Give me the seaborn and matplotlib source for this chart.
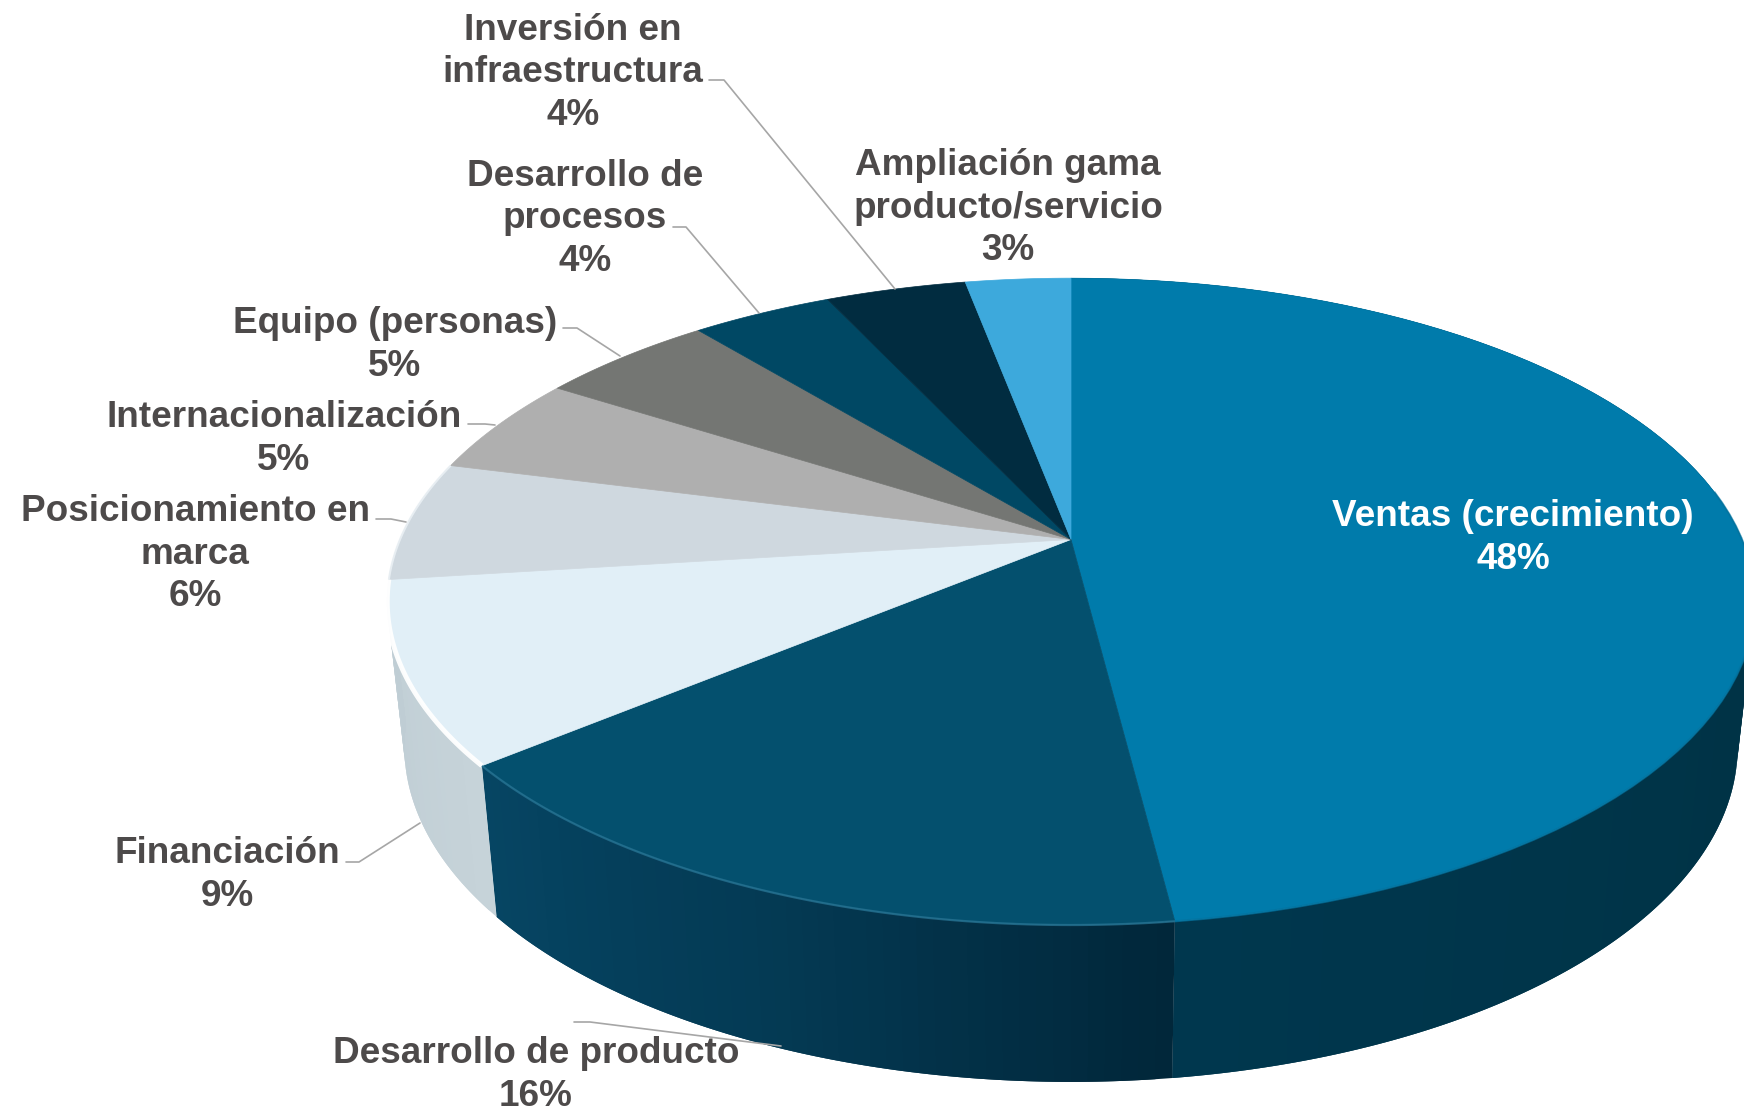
import numpy as np
import matplotlib
matplotlib.use('Agg')
import matplotlib.pyplot as plt
import seaborn as sns

labels = ['Ventas (crecimiento)', 'Desarrollo de producto', 'Financiación',
          'Posicionamiento en\nmarca', 'Internacionalización', 'Equipo (personas)',
          'Desarrollo de\nprocesos', 'Inversión en\ninfraestructura',
          'Ampliación gama\nproducto/servicio']
values = [48, 16, 9, 6, 5, 5, 4, 4, 3]
top_colors = ['#007bab', '#04506e', '#e1eff7', '#cfd8df', '#afafaf',
              '#747673', '#004864', '#012c40', '#3da9dc']
wall_colors = [['#003244', '#003244', '#003346', '#00374e'],
               ['#01273a', '#043a54', '#064563'],
               ['#c6d3d9', '#bfcdd4']]
rim_colors = ['#04739f', '#2b7898', '#ffffff', '#e9eff3']
rim_widths = [1.6, 1.6, 3.5, 1.5]

label_x = [1513, 536, 227, 195, 284, 395, 585, 573, 1008]
label_y = [538, 1075, 875, 554, 439, 345, 219, 73, 208]
leaders = [None,
           [(574, 1022), (590, 1022), (781, 1046)],
           [(346, 862), (359, 862), (420, 823)],
           [(376, 519), (391, 519), (406, 522)],
           [(468, 424), (485, 424), (495, 425)],
           [(563, 328), (577, 328), (620, 356)],
           [(673, 227), (686, 227), (759, 313)],
           [(709, 80), (724, 80), (895, 289)],
           None]

# perspective of the pie, in pixels of the picture
CX, CY = 1071, 539.5
RX, RY, TILT = 671, 311.5, 0.192
BOTTOM_X, BOTTOM_Y, BOTTOM_OFF = 0.975, 1.036, 143


def project(pct):
    ang = np.radians(np.asarray(pct) * 3.6)
    d = 1 + TILT * np.cos(ang)
    return RX * np.sin(ang) / d, -RY * np.cos(ang) / d


def top_edge(pct):
    x, y = project(pct)
    return CX + x, CY + y


def bottom_edge(pct):
    x, y = project(pct)
    return CX + BOTTOM_X * x, CY + BOTTOM_Y * y + BOTTOM_OFF


sns.set_theme(style='white')
plt.rcParams['font.family'] = ['Liberation Sans', 'DejaVu Sans']

fig = plt.figure(figsize=(17.44, 11.13), dpi=100)
ax = fig.add_axes([0, 0, 1, 1])
ax.set_xlim(0, 1744)
ax.set_ylim(1113, 0)
ax.axis('off')

edges = np.concatenate([[0], np.cumsum(values)])

# outer wall of the three front slices, each strip overlaps the next to hide seams
for i in range(3):
    n = max(int(values[i]) * 3, 30)
    steps = np.linspace(edges[i], edges[i + 1], n + 1)
    shades = sns.blend_palette(wall_colors[i], n)
    for j in range(n):
        p = np.linspace(steps[j], steps[min(j + 2, n)], 5)
        x0, y0 = top_edge(p)
        x1, y1 = bottom_edge(p)
        ax.fill(np.r_[x0, x1[::-1]], np.r_[y0, y1[::-1]], color=shades[j], lw=0, zorder=2)

# top face
for i in range(len(values)):
    p = np.linspace(edges[i], edges[i + 1], 80)
    x, y = top_edge(p)
    ax.fill(np.r_[CX, x], np.r_[CY, y], facecolor=top_colors[i],
            edgecolor=top_colors[i], lw=0.5, zorder=3)

# lit rim along the front of the top face
for i, c in enumerate(rim_colors):
    p = np.linspace(edges[i], edges[i + 1], 80)
    if i == 0:
        p = p[p > 22]
    x, y = top_edge(p)
    ax.plot(x, y, color=c, lw=rim_widths[i], zorder=4,
            alpha=0.95 if i >= 2 else 0.7, solid_capstyle='butt')

for pts in leaders:
    if pts is not None:
        xs, ys = zip(*pts)
        ax.plot(xs, ys, color='#a6a6a6', lw=1.2, zorder=5)

for i, name in enumerate(labels):
    ax.text(label_x[i], label_y[i], f'{name}\n{values[i]}%', ha='center', va='center',
            multialignment='center', fontsize=26.6, fontweight='bold',
            color='white' if i == 0 else '#4d4a4a', linespacing=1.29, zorder=6)

fig.savefig('out.png', dpi=100)
